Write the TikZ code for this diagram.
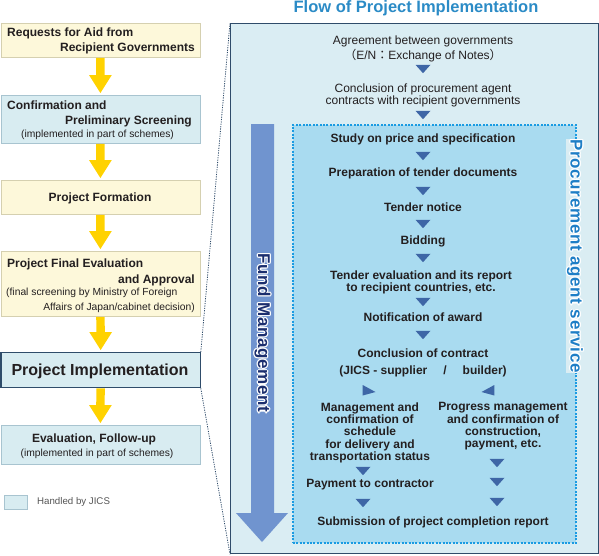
\documentclass[tikz,border=0pt]{standalone}
\usepackage{fontspec}
\setmainfont{Liberation Sans}
\newfontfamily\cjk{Noto Sans CJK JP}
\usetikzlibrary{calc}
\definecolor{yfill}{HTML}{FDF8DA}
\definecolor{yborder}{HTML}{D5D0B0}
\definecolor{bfill}{HTML}{D8ECF1}
\definecolor{bborder}{HTML}{A8C4D0}
\definecolor{navy}{HTML}{2F4C6A}
\definecolor{yarrcol}{HTML}{FFD200}
\definecolor{panelfill}{HTML}{DAEDF3}
\definecolor{innerfill}{HTML}{A9DBF0}
\definecolor{dotblue}{HTML}{1A9BE2}
\definecolor{tricol}{HTML}{3E66A6}
\definecolor{fundcol}{HTML}{7094CF}
\definecolor{fundtext}{HTML}{1B2E6E}
\definecolor{proctext}{HTML}{1E7EC6}
\definecolor{titlecol}{HTML}{2B8BC6}
\definecolor{txt}{HTML}{231F20}
\definecolor{legtxt}{HTML}{555555}
\def\hl#1#2#3{\rlap{\kern#1\raisebox{#2}{\color{white}#3}}}
\newcommand\halotext[1]{\leavevmode\hl{-1.2pt}{0pt}{#1}\hl{1.2pt}{0pt}{#1}\hl{0pt}{1.2pt}{#1}\hl{0pt}{-1.2pt}{#1}\hl{-.85pt}{.85pt}{#1}\hl{.85pt}{.85pt}{#1}\hl{-.85pt}{-.85pt}{#1}\hl{.85pt}{-.85pt}{#1}#1}
\newcommand\yarrow[2]{\fill[yarrcol] ($(#1.south)+(-4.2,0)$) -- ($(#2.north)+(-4.2,-20)$) -- ($(#2.north)+(-11.4,-20)$) -- ($(#2.north)+(0,-2)$) -- ($(#2.north)+(11.4,-20)$) -- ($(#2.north)+(4.2,-20)$) -- ($(#1.south)+(4.2,0)$) -- cycle;}
\begin{document}
\begin{tikzpicture}[x=1pt,y=-1pt,
  ybox/.style={draw=yborder, fill=yfill, line width=0.8pt, minimum width=199pt, inner sep=0, anchor=north west},
  bbox/.style={draw=bborder, fill=bfill, line width=0.8pt, minimum width=199pt, inner sep=0, anchor=north west},
  ibox/.style={draw=navy, fill=bfill, line width=1.3pt, minimum width=199pt, inner sep=0, anchor=north west},
  lt/.style={inner sep=0, text=txt, font=\fontsize{12}{14}\selectfont\bfseries},
  sm/.style={inner sep=0, text=txt, font=\fontsize{10.3}{12}\selectfont},
  ptx/.style={inner sep=0, text=txt, align=center, anchor=north, font=\fontsize{12}{12.2}\selectfont\bfseries},
  ptr/.style={inner sep=0, text=txt, align=center, anchor=north, font=\fontsize{12}{12}\selectfont},
  vlabel/.style={inner sep=0, rotate=-90, font=\fontsize{17}{18}\selectfont\bfseries\addfontfeatures{LetterSpace=4}},
  conn/.style={draw=navy, line width=0.8pt, dash pattern=on 1.2pt off 1.2pt},
  dtri/.pic={\fill[tricol] (-7.5,-4.2) -- (7.5,-4.2) -- (0,4.2) -- cycle;}
]
\useasboundingbox (0,0) rectangle (599,555);

% ---------- left column ----------
\node[ybox, minimum height=34pt] (b1) at (0.5,23) {};
\node[bbox, minimum height=48pt] (b2) at (0.5,95) {};
\node[ybox, minimum height=34pt] (b3) at (0.5,180) {};
\node[ybox, minimum height=65pt] (b4) at (0.5,251) {};
\node[ibox, minimum height=35pt] (b5) at (0.5,352) {};
\node[bbox, minimum height=39pt] (b6) at (0.5,425) {};

\yarrow{b1}{b2}
\yarrow{b2}{b3}
\yarrow{b3}{b4}
\yarrow{b4}{b5}
\yarrow{b5}{b6}

\node[lt, anchor=north west] (b1a) at (7,28) {Requests for Aid from};
\node[lt, anchor=north east] (b1b) at (195,42.5) {Recipient Governments};
\node[lt, anchor=north west] (b2a) at (7,100.5) {Confirmation and};
\node[lt, anchor=north east] (b2b) at (192,115.5) {Preliminary Screening};
\node[sm, anchor=north] (b2c) at (97.5,130) {(implemented in part of schemes)};
\node[lt, anchor=north] (b3a) at (100,192.5) {Project Formation};
\node[lt, anchor=north west] (b4a) at (7,258.5) {Project Final Evaluation};
\node[lt, anchor=north east] (b4b) at (195,274.5) {and Approval};
\node[sm, anchor=north west] (b4c) at (6,288) {(final screening by Ministry of Foreign};
\node[sm, anchor=north east] (b4d) at (195,303) {Affairs of Japan/cabinet decision)};
\node[inner sep=0, text=txt, anchor=north, font=\fontsize{16}{18}\selectfont\bfseries] (b5a) at (100,364) {Project Implementation};
\node[lt, anchor=north] (b6a) at (94,433.5) {Evaluation, Follow-up};
\node[sm, anchor=north] (b6b) at (97,449) {(implemented in part of schemes)};

\node[bbox, minimum width=23pt, minimum height=14pt] (leg) at (4,495) {};
\node[inner sep=0, anchor=west, text=legtxt, font=\fontsize{9.7}{11}\selectfont] (legt) at (37,502) {Handled by JICS};

% ---------- right panel ----------
\node[inner sep=0, text=titlecol, font=\fontsize{16.5}{18}\selectfont\bfseries] (title) at (416,8) {Flow of Project Implementation};
\node[draw=navy, fill=panelfill, line width=1.3pt, minimum width=368pt, minimum height=530pt, inner sep=0, anchor=north west] (panel) at (230,23) {};
\node[draw=dotblue, fill=innerfill, line width=2pt, dash pattern=on 2pt off 1.4pt, minimum width=283pt, minimum height=418pt, inner sep=0, anchor=north west] (inner) at (292,124) {};

\draw[conn] (b5.north east) -- (panel.north west);
\draw[conn] (b5.south east) -- (panel.south west);

% fund management arrow
\fill[fundcol] (251,124) -- (274,124) -- (274,513) -- (288,513) -- (262,542) -- (236,513) -- (251,513) -- cycle;
\node[vlabel, text=fundtext] (fund) at (262.5,333) {\halotext{Fund Management}};

% flow texts
\node[ptr, font=\fontsize{12}{15}\selectfont] (t1) at (423,35.5) {Agreement between governments\\{\cjk （}E/N{\cjk ：}Exchange of Notes{\cjk ）}};
\pic at (423,69) {dtri};
\node[ptr] (t2) at (423,83.5) {Conclusion of procurement agent\\contracts with recipient governments};
\pic at (423,115) {dtri};
\node[ptx] (s1) at (423,133.5) {Study on price and specification};
\pic at (423,156) {dtri};
\node[ptx] (s2) at (423,167.5) {Preparation of tender documents};
\pic at (423,191) {dtri};
\node[ptx] (s3) at (423,202.5) {Tender notice};
\pic at (423,224) {dtri};
\node[ptx] (s4) at (423,235.5) {Bidding};
\pic at (423,258) {dtri};
\node[ptx] (s5) at (421,270.5) {Tender evaluation and its report\\to recipient countries, etc.};
\pic at (423,302) {dtri};
\node[ptx] (s6) at (423,312.5) {Notification of award};
\pic at (423,335) {dtri};
\node[ptx, font=\fontsize{12}{17}\selectfont\bfseries] (s7) at (423,348.5) {Conclusion of contract\\(JICS - supplier\hspace{16pt}/\hspace{16pt}builder)};
\fill[tricol] (362.7,385) -- (362.7,395.5) -- (375.5,392) -- cycle;
\fill[tricol] (494.3,385) -- (494.3,395.5) -- (481.5,392) -- cycle;
\node[ptx] (l1) at (370,402.5) {Management and\\confirmation of\\schedule\\for delivery and\\transportation status};
\node[ptx] (r1) at (503,402.5) {Progress management\\and confirmation of\\construction,\\payment, etc.};
\pic at (363,471) {dtri};
\node[ptx] (l2) at (370,479.5) {Payment to contractor};
\pic at (363,503) {dtri};
\pic at (497,463) {dtri};
\pic at (497,482) {dtri};
\pic at (497,502) {dtri};
\node[ptx] (s8) at (433,516.5) {Submission of project completion report};

\node[vlabel, text=proctext, fill=panelfill] (proc) at (575,256) {\halotext{Procurement agent service}};
\end{tikzpicture}
\end{document}
